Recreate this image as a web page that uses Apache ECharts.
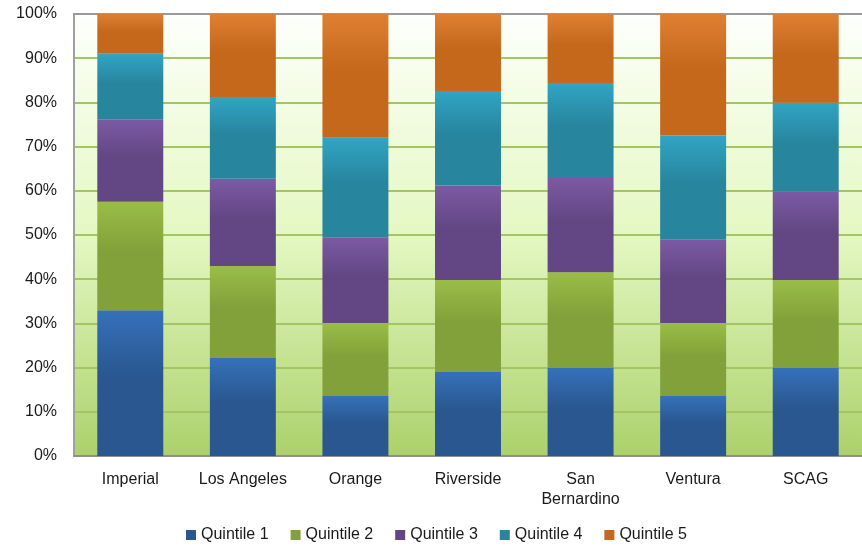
<!DOCTYPE html>
<html>
<head>
<meta charset="utf-8">
<script src="https://cdn.jsdelivr.net/npm/echarts@6/dist/echarts.min.js"></script>
<style>
  html, body { margin: 0; padding: 0; background: #fff; }
  #main { width: 862px; height: 548px; }
</style>
</head>
<body>
<div id="main"></div>
<script>
var counties = ['Imperial', 'Los Angeles', 'Orange', 'Riverside', 'San\nBernardino', 'Ventura', 'SCAG'];
var quintile1 = [33.0, 22.2, 13.6, 19.0, 19.9, 13.6, 19.9];
var quintile2 = [24.5, 20.8, 16.5, 20.8, 21.7, 16.5, 19.9];
var quintile3 = [18.6, 19.7, 19.4, 21.4, 21.5, 18.8, 20.0];
var quintile4 = [14.9, 18.5, 22.5, 21.4, 21.3, 23.6, 20.1];
var quintile5 = [9.0, 18.8, 28.0, 17.4, 15.6, 27.5, 20.1];

var names = ['Quintile 1', 'Quintile 2', 'Quintile 3', 'Quintile 4', 'Quintile 5'];
var allData = [quintile1, quintile2, quintile3, quintile4, quintile5];
// light top / darker body for each segment
var lightColors = ['#3571ba', '#9abd48', '#7b5aa3', '#30a5c4', '#df7f32'];
var darkColors = ['#2a5790', '#83a13a', '#624784', '#28859e', '#c5681c'];

var chart = echarts.init(document.getElementById('main'), null, { renderer: 'canvas' });

function grad(i) {
  return new echarts.graphic.LinearGradient(0, 0, 0, 1, [
    { offset: 0, color: lightColors[i] },
    { offset: 0.45, color: darkColors[i] },
    { offset: 1, color: darkColors[i] }
  ]);
}

var series = [];
for (var i = 0; i < allData.length; i++) {
  series.push({
    name: names[i],
    type: 'bar',
    stack: 'total',
    barWidth: '58.6%',
    data: allData[i],
    itemStyle: { color: grad(i) }
  });
}

var option = {
  backgroundColor: '#ffffff',
  textStyle: { fontFamily: '"Liberation Sans", Arial, sans-serif' },
  color: darkColors,
  grid: {
    left: 74,
    right: 0,
    top: 14,
    bottom: 92,
    show: true,
    borderWidth: 0,
    backgroundColor: new echarts.graphic.LinearGradient(0, 0, 0, 1, [
      { offset: 0, color: '#fdfffb' },
      { offset: 0.5, color: '#e4f8c2' },
      { offset: 1, color: '#acd16b' }
    ])
  },
  legend: {
    data: names.map(function (n, i) {
      return { name: n, itemStyle: { color: darkColors[i] } };
    }),
    bottom: 0,
    left: 181,
    icon: 'rect',
    itemWidth: 10,
    itemHeight: 10,
    itemGap: 22,
    textStyle: { fontSize: 16, color: '#1a1a1a' }
  },
  xAxis: [{
    type: 'category',
    data: counties,
    axisLine: { show: true, lineStyle: { color: '#8e8e8e', width: 2 } },
    axisTick: { show: false },
    axisLabel: { fontSize: 16, color: '#1a1a1a', margin: 14, lineHeight: 20, interval: 0 }
  }, {
    // gray frame line along the top of the plot
    type: 'category',
    position: 'top',
    data: counties,
    axisLine: { show: true, lineStyle: { color: '#9a9a9a', width: 2 } },
    axisTick: { show: false },
    axisLabel: { show: false }
  }],
  yAxis: {
    type: 'value',
    min: 0,
    max: 100,
    interval: 10,
    axisLine: { show: true, lineStyle: { color: '#a0a0a0', width: 2 } },
    axisTick: { show: false },
    axisLabel: { fontSize: 16, color: '#1a1a1a', margin: 17, formatter: '{value}%' },
    splitLine: {
      show: true,
      lineStyle: { color: '#a3c663', width: 2 }
    }
  },
  series: series
};

chart.setOption(option);
</script>
</body>
</html>
